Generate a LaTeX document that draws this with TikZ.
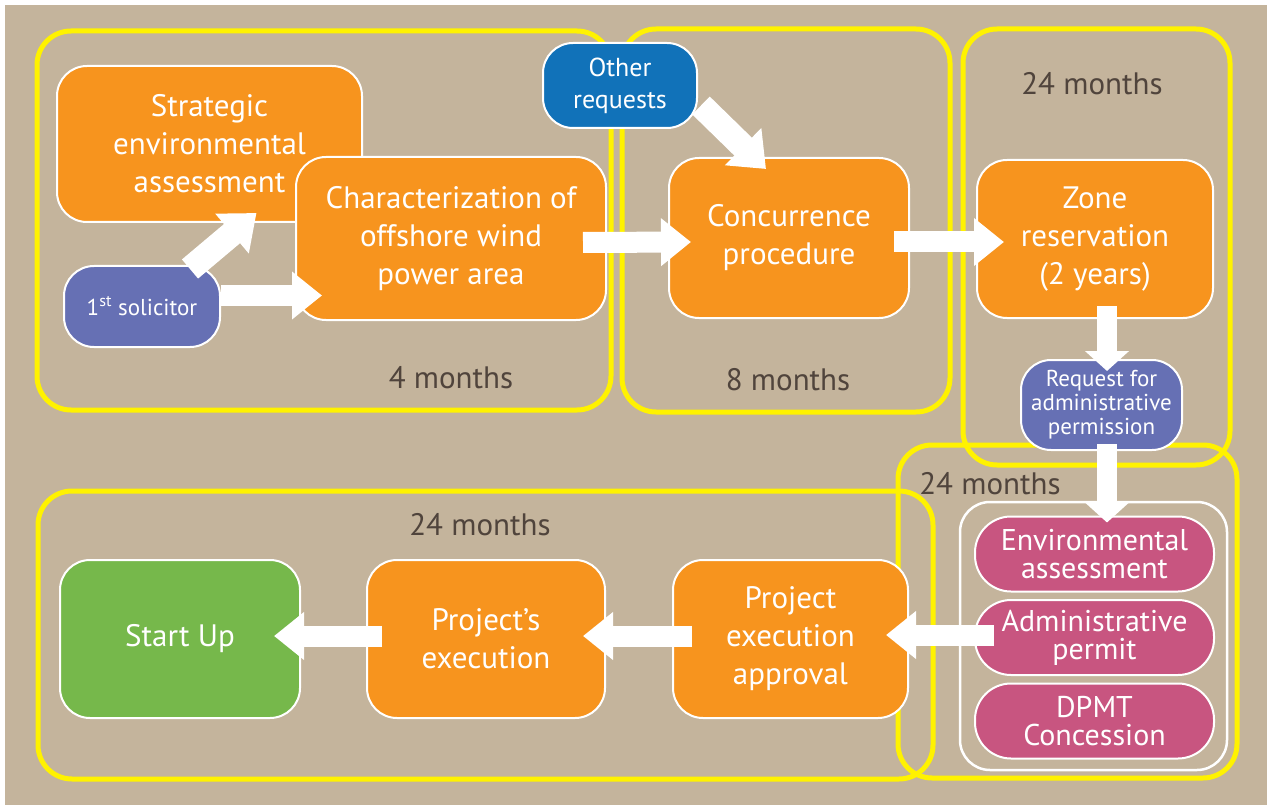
\documentclass[tikz,border=0pt]{standalone}
\usepackage{fontspec}
\setmainfont{PT Sans}
\usepackage{tikz}
\usetikzlibrary{arrows.meta,positioning}
\definecolor{wind@tan}{RGB}{196,180,156}
\definecolor{wind@orange}{RGB}{247,148,30}
\definecolor{wind@violet}{RGB}{102,112,180}
\definecolor{wind@blue}{RGB}{17,114,185}
\definecolor{wind@pink}{RGB}{200,85,128}
\definecolor{wind@green}{RGB}{118,184,75}
\definecolor{wind@yellow}{RGB}{255,242,0}
\definecolor{wind@text}{RGB}{80,68,60}
\tikzset{
  wind/.style={
    x=1pt, y=-1pt,
    line join=round
  },
  stage/.style={                   % main procedure step
    draw=white, line width=2pt,
    rounded corners=30pt,
    fill=wind@orange, text=white,
    inner sep=0pt, align=center,
    font=\fontsize{31}{38}\selectfont
  },
  actor/.style={                   % who asks
    stage, fill=wind@violet,
    font=\fontsize{23}{23}\selectfont
  },
  permit/.style={                  % permit pieces
    stage, fill=wind@pink, rounded corners=36pt,
    minimum width=239pt, minimum height=75pt,
    font=\fontsize{30}{28}\selectfont
  },
  phase/.style={draw=wind@yellow, line width=5pt, rounded corners=34pt},
  months/.style={text=wind@text, font=\fontsize{31}{30}\selectfont},
  bigarrow/.style={draw=white, line width=21pt,
    -{Triangle[length=30pt,width=46pt]}},
  shortarrow/.style={draw=white, line width=20pt,
    -{Triangle[length=20pt,width=43pt]}},
  slantarrow/.style={draw=white, line width=25pt,
    -{Triangle[length=32pt,width=50pt]}}
}
\begin{document}
\begin{tikzpicture}[wind]
\useasboundingbox (0,0) rectangle (1267,805);
\fill[white] (0,0) rectangle (1267,805);
\fill[wind@tan] (5,5) rectangle (1267,805);

% phases (yellow frames)
\draw[phase] (37,31) rectangle (611,410);
\draw[phase] (622,29) rectangle (950,412);
\draw[phase] (963,29) rectangle (1230,465);
\draw[phase] (898,445) rectangle (1237,778);
\draw[phase] (38,491) rectangle (933,779);

\node[months] at (451,378) {4 months};
\node[months] at (788,380) {8 months};
\node[months] at (1092,84) {24 months};
\node[months] at (990,484) {24 months};
\node[months] at (480,525) {24 months};

% first phase
\node[stage, minimum width=305pt, minimum height=156pt] (sea) at (209.5,144)
  {Strategic\\environmental\\assessment};
\node[stage, minimum width=310pt, minimum height=163pt] (char) at (451,238.5)
  {Characterization of\\offshore wind\\power area};
\node[actor, minimum width=156pt, minimum height=81pt] (sol) at (142,306.5)
  {1\textsuperscript{st} solicitor};

% concurrence
\node[stage, minimum width=240pt, minimum height=160pt] (conc) at (789,238)
  {Concurrence\\procedure};
\node[actor, fill=wind@blue, minimum width=154pt, minimum height=85pt,
      font=\fontsize{26}{32}\selectfont] (oth) at (620,85.5)
  {Other\\requests};

% reservation
\node[stage, minimum width=236pt, minimum height=158pt] (zone) at (1095,239)
  {Zone\\reservation\\(2 years)};
\node[actor, minimum width=161pt, minimum height=90pt,
      font=\fontsize{23}{24}\selectfont] (req) at (1101.5,405)
  {Request for\\administrative\\permission};

% permits
\node[draw=white, line width=2.5pt, rounded corners=30pt,
      minimum width=267pt, minimum height=268pt] (wbox) at (1093.5,636) {};
\node[permit] (env) at (1094.5,554) {Environmental\\assessment};
\node[permit] (adm) at (1094.5,637.5) {Administrative\\permit};
\node[permit] (dpmt) at (1094.5,721) {DPMT\\Concession};

% execution
\node[stage, minimum width=235pt, minimum height=158pt] (appr) at (790.5,639)
  {Project\\execution\\approval};
\node[stage, minimum width=238pt, minimum height=158pt] (exec) at (486,639)
  {Project’s\\execution};
\node[stage, fill=wind@green, minimum width=240pt, minimum height=158pt] (start) at (180,639)
  {Start Up};

% flow
\draw[slantarrow] ([shift={(48,4)}]sol.north) -- ([shift={(47,-10)}]sea.south);
\draw[bigarrow] ([shift={(0,-11)}]sol.east) -- ([shift={(27,57)}]char.west);
\draw[slantarrow] ([shift={(3,20)}]oth.east) -- ([shift={(-23,12)}]conc.north);
\draw[bigarrow] ([shift={(-24,4)}]char.east) -- ([shift={(23,4)}]conc.west);
\draw[bigarrow] ([shift={(-16,4)}]conc.east) -- ([shift={(28,3)}]zone.west);
\draw[shortarrow] ([shift={(12,-13)}]zone.south) -- ([shift={(5.5,12)}]req.north);
\draw[shortarrow] ([shift={(5.5,-7)}]req.south) -- ([shift={(12.5,7)}]env.north);
\draw[bigarrow] ([shift={(20,-2.5)}]adm.west) -- ([shift={(-23,-4)}]appr.east);
\draw[bigarrow] ([shift={(20,-3)}]appr.west) -- ([shift={(-23,-3)}]exec.east);
\draw[bigarrow] ([shift={(16,-3)}]exec.west) -- ([shift={(-27,-3)}]start.east);

\end{tikzpicture}
\end{document}
